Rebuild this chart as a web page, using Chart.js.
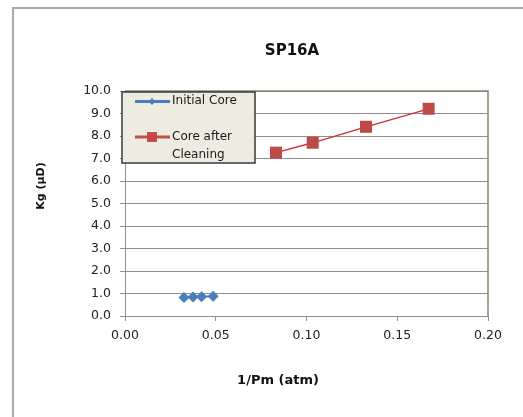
<!DOCTYPE html>
<html lang="en">

<head>
    <meta charset="UTF-8">
    <title>SP16A</title>
    <script src="https://cdn.jsdelivr.net/npm/chart.js"></script>
    <style>
        body { margin: 0; background: #fff; overflow: hidden; }
        canvas { display: block; }
    </style>
</head>

<body>
    <canvas id="kgChart" width="523" height="417"></canvas>

    <script>
        // Klinkenberg plot: gas permeability vs. inverse mean pressure
        const initialInvPm = [0.0325, 0.0375, 0.0422, 0.0486];
        const initialKg = [0.82, 0.84, 0.86, 0.88];
        const cleanedInvPm = [0.0832, 0.1034, 0.1328, 0.1673];
        const cleanedKg = [7.26, 7.70, 8.41, 9.21];

        const seriesNames = ['Initial Core', 'Core after Cleaning'];
        const chartTitle = 'SP16A';
        const xTitle = '1/Pm (atm)';
        const yTitle = 'Kg (\u00b5D)';

        const blue = '#4a7ebb';
        const red = '#be4b48';
        const gridColor = '#8f8f8f';
        const font = 'DejaVu Sans';

        const toPoints = (xs, ys) => xs.map((x, i) => ({ x: x, y: ys[i] }));

        // outer frame, titles, plot border and the boxed legend are drawn by hand
        const decorations = {
            id: 'decorations',
            beforeDraw(chart) {
                const ctx = chart.ctx;
                ctx.save();
                ctx.strokeStyle = '#aaaaaa';
                ctx.lineWidth = 2;
                ctx.beginPath();
                ctx.moveTo(13, chart.height);
                ctx.lineTo(13, 8);
                ctx.lineTo(chart.width, 8);
                ctx.stroke();
                ctx.restore();
            },
            afterDraw(chart) {
                const ctx = chart.ctx;
                const area = chart.chartArea;
                ctx.save();

                // top + right plot border
                ctx.strokeStyle = '#86866f';
                ctx.lineWidth = 1.5;
                ctx.beginPath();
                ctx.moveTo(area.left, area.top);
                ctx.lineTo(area.right, area.top);
                ctx.lineTo(area.right, area.bottom);
                ctx.stroke();

                ctx.fillStyle = '#111';
                ctx.textAlign = 'center';
                ctx.textBaseline = 'middle';
                ctx.font = 'bold 15px ' + font;
                ctx.fillText(chartTitle, 292, 51);
                ctx.font = 'bold 13px ' + font;
                ctx.fillText(xTitle, 278, 381);
                ctx.save();
                ctx.translate(41, 186);
                ctx.rotate(-Math.PI / 2);
                ctx.font = 'bold 11px ' + font;
                ctx.fillText(yTitle, 0, 0);
                ctx.restore();

                // legend box
                ctx.fillStyle = '#eeece1';
                ctx.strokeStyle = '#3a3a3a';
                ctx.lineWidth = 1.5;
                ctx.fillRect(122, 92, 133, 71);
                ctx.strokeRect(122, 92, 133, 71);

                const ds = chart.data.datasets;
                ctx.font = '12px ' + font;
                ctx.textAlign = 'left';

                ctx.strokeStyle = ds[0].borderColor;
                ctx.lineWidth = 3;
                ctx.beginPath();
                ctx.moveTo(135, 101.5);
                ctx.lineTo(170, 101.5);
                ctx.stroke();
                ctx.fillStyle = ds[0].pointBackgroundColor;
                Chart.helpers.drawPoint(ctx, { pointStyle: 'rectRot', radius: 3.5, rotation: 0, borderWidth: 0 }, 152, 101.5);
                ctx.fillStyle = '#1a1a1a';
                ctx.fillText('Initial Core', 172, 101);

                ctx.strokeStyle = '#c0504d';
                ctx.lineWidth = 3;
                ctx.beginPath();
                ctx.moveTo(135, 137);
                ctx.lineTo(170, 137);
                ctx.stroke();
                ctx.fillStyle = ds[1].pointBackgroundColor;
                Chart.helpers.drawPoint(ctx, { pointStyle: 'rect', radius: 7, rotation: 0, borderWidth: 0 }, 152, 137);
                ctx.fillStyle = '#1a1a1a';
                ctx.fillText('Core after', 172, 137);
                ctx.fillText('Cleaning', 172, 155);

                ctx.restore();
            }
        };

        const ctx = document.getElementById('kgChart').getContext('2d');
        new Chart(ctx, {
            type: 'scatter',
            data: {
                datasets: [
                    {
                        label: seriesNames[0],
                        data: toPoints(initialInvPm, initialKg),
                        showLine: true,
                        borderColor: blue,
                        borderWidth: 2,
                        pointStyle: 'rectRot',
                        pointRadius: 5.5,
                        pointBackgroundColor: blue,
                        pointBorderWidth: 0
                    },
                    {
                        label: seriesNames[1],
                        data: toPoints(cleanedInvPm, cleanedKg),
                        showLine: true,
                        borderColor: '#d42f2f',
                        borderWidth: 1.3,
                        pointStyle: 'rect',
                        pointRadius: 8.5,
                        pointBackgroundColor: red,
                        pointBorderWidth: 0
                    }
                ]
            },
            options: {
                responsive: false,
                animation: false,
                devicePixelRatio: 1,
                layout: { padding: { left: 0, top: 91, right: 35, bottom: 0 } },
                plugins: {
                    legend: { display: false },
                    title: { display: false },
                    tooltip: { enabled: false }
                },
                scales: {
                    x: {
                        type: 'linear',
                        min: 0,
                        max: 0.2,
                        afterFit: s => { s.height = 101; },
                        ticks: {
                            stepSize: 0.05,
                            padding: 7,
                            color: '#222',
                            font: { family: font, size: 12.5 },
                            callback: v => v.toFixed(2)
                        },
                        grid: { drawOnChartArea: false, drawTicks: true, tickLength: 5, color: gridColor },
                        border: { color: gridColor, width: 1 }
                    },
                    y: {
                        min: 0,
                        max: 10,
                        afterFit: s => { s.width = 125; },
                        ticks: {
                            stepSize: 1,
                            padding: 9,
                            color: '#222',
                            font: { family: font, size: 12.5 },
                            callback: v => v.toFixed(1)
                        },
                        grid: { color: gridColor, lineWidth: 1, tickLength: 5 },
                        border: { color: gridColor, width: 1 }
                    }
                }
            },
            plugins: [decorations]
        });
    </script>
</body>

</html>
